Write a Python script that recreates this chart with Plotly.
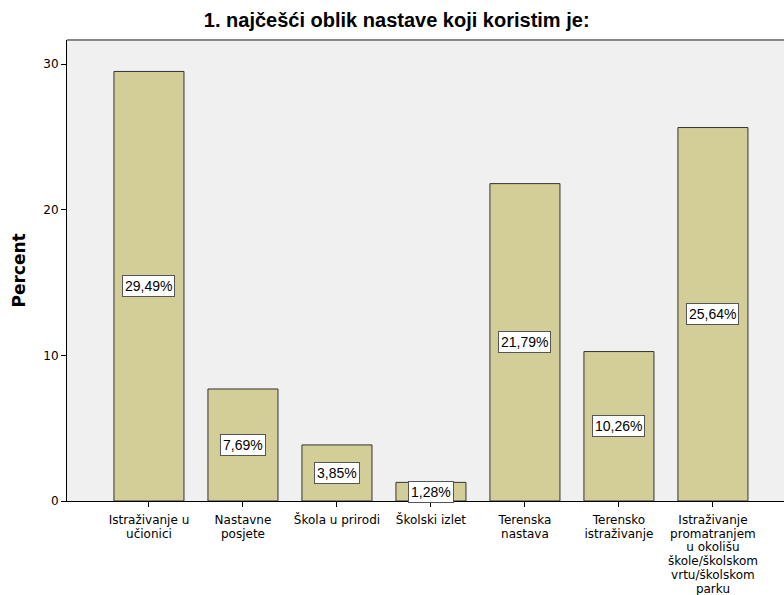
import plotly.graph_objects as go

category_lines = [
    ["Istraživanje u", "učionici"],
    ["Nastavne", "posjete"],
    ["Škola u prirodi"],
    ["Školski izlet"],
    ["Terenska", "nastava"],
    ["Terensko", "istraživanje"],
    ["Istraživanje", "promatranjem", "u okolišu", "škole/školskom", "vrtu/školskom", "parku"],
]
percent = [29.49, 7.69, 3.85, 1.28, 21.79, 10.26, 25.64]
value_labels = ["29,49%", "7,69%", "3,85%", "1,28%", "21,79%", "10,26%", "25,64%"]
y_ticks = [0, 10, 20, 30]

xs = list(range(len(percent)))
# larger glyphs on a tighter line base (tick font size sets the line spacing)
tick_text = ["<br>".join('<span style="font-size:12px">' + ln + "</span>" for ln in lines)
             for lines in category_lines]

fig = go.Figure()
fig.add_trace(go.Bar(
    x=xs, y=percent, width=0.745,
    marker=dict(color="#D3CE97", line=dict(color="#333333", width=1)),
    hoverinfo="skip",
))

for x, v, t in zip(xs, percent, value_labels):
    fig.add_annotation(
        x=x, y=v / 2, text=t, showarrow=False,
        font=dict(family="Liberation Sans, Arial", size=14, color="black"),
        bgcolor="white", bordercolor="#555555", borderwidth=1, borderpad=2,
    )

fig.add_annotation(
    xref="paper", yref="paper", x=0, y=0.5, xshift=-49, xanchor="center", yanchor="middle",
    text="<b>Percent</b>", textangle=-90, showarrow=False,
    font=dict(family="DejaVu Sans", size=17, color="black"),
)

fig.add_shape(type="line", xref="paper", yref="paper", x0=0, x1=1, y0=1, y1=1,
              line=dict(color="#888888", width=2))

fig.update_layout(
    width=784, height=595,
    margin=dict(l=67, r=0, t=40, b=94),
    paper_bgcolor="white", plot_bgcolor="#F0F0F0",
    showlegend=False,
    font=dict(family="DejaVu Sans", size=12, color="black"),
    title=dict(text="<b>1. najčešći oblik nastave koji koristim je:</b>",
               x=0.506, xanchor="center", y=0.966, yanchor="middle",
               font=dict(family="Liberation Sans, Arial", size=20, color="black")),
    xaxis=dict(
        range=[-0.872, 6.756], tickmode="array", tickvals=xs, ticktext=tick_text,
        ticks="outside", ticklen=5, tickcolor="black", showline=True, linecolor="black",
        linewidth=1, showgrid=False, zeroline=False, tickangle=0,
        tickfont=dict(family="DejaVu Sans", size=10.6), ticklabelstandoff=4,
    ),
    yaxis=dict(
        range=[0, 31.65], tickmode="array", tickvals=y_ticks,
        ticks="outside", ticklen=5, tickcolor="black", showline=True, linecolor="black",
        linewidth=1, showgrid=False, zeroline=False,
        tickfont=dict(family="DejaVu Sans", size=12),
    ),
)

fig.write_html(
    "out.html",
    config={"displayModeBar": False},
    post_script="document.body.style.margin='0';document.body.style.overflow='hidden';",
)
